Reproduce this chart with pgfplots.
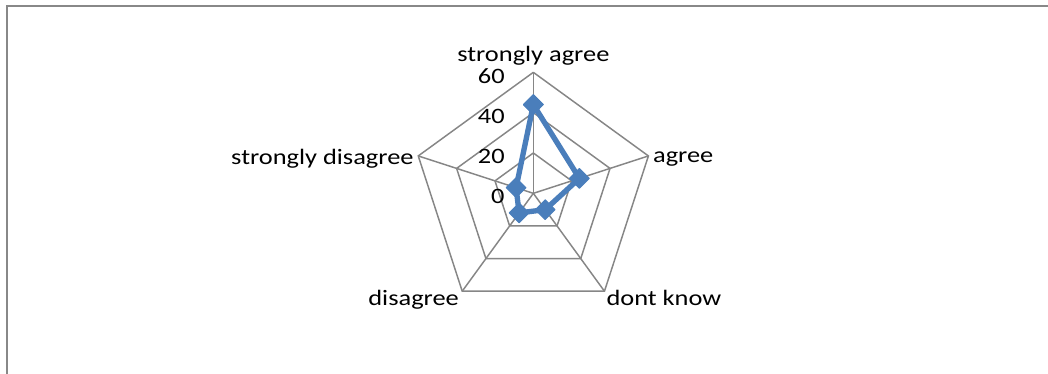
\documentclass[border=0pt]{standalone}
\usepackage{pgfplots}
\pgfplotsset{compat=1.18}
\usepgfplotslibrary{polar}
\usepackage{fontspec}
\setmainfont[FakeStretch=1.2]{Carlito}

\definecolor{gridgray}{RGB}{134,134,134}
\definecolor{framegray}{RGB}{136,136,136}
\definecolor{seriesblue}{RGB}{74,126,187}

\begin{document}
\begin{tikzpicture}
\useasboundingbox (0,0) rectangle (786pt,280.5pt);
\fill[white] (0,0) rectangle (786pt,280.5pt);
% chart area border (only top and left visible)
\draw[framegray, line width=1.5pt] (4.9pt,0) -- (4.9pt,276pt) -- (786pt,276pt);

\begin{polaraxis}[
  at={(400pt,135.5pt)}, anchor=center,
  scale only axis, width=181.5pt, height=181.5pt,
  ymin=0, ymax=60,
  hide axis,
  clip=false,
  font=\fontsize{16.5}{19}\selectfont,
]
% pentagon gridlines
\addplot[gridgray, line width=1.1pt] coordinates {(90,20) (18,20) (-54,20) (-126,20) (162,20) (90,20)};
\addplot[gridgray, line width=1.1pt] coordinates {(90,40) (18,40) (-54,40) (-126,40) (162,40) (90,40)};
\addplot[gridgray, line width=1.1pt] coordinates {(90,60) (18,60) (-54,60) (-126,60) (162,60) (90,60)};
% spokes
\addplot[gridgray, line width=1.1pt] coordinates {(90,0) (90,60)};
\addplot[gridgray, line width=1.1pt] coordinates {(18,0) (18,60)};
\addplot[gridgray, line width=1.1pt] coordinates {(-54,0) (-54,60)};
\addplot[gridgray, line width=1.1pt] coordinates {(-126,0) (-126,60)};
\addplot[gridgray, line width=1.1pt] coordinates {(162,0) (162,60)};

% series
\addplot[seriesblue, line width=4pt, line join=round,
  mark=square*, mark size=5.2pt,
  mark options={rotate=45, line width=0.8pt, fill=seriesblue}]
coordinates {
  (90,44)
  (18,24)
  (-54,10)
  (-126,12)
  (162,9)
  (90,44)
};

% radial tick labels
\node[anchor=east, xshift=-18pt, yshift=-2.6pt] at (axis cs:90,60) {60};
\node[anchor=east, xshift=-18pt, yshift=-2.6pt] at (axis cs:90,40) {40};
\node[anchor=east, xshift=-18pt, yshift=-2.6pt] at (axis cs:90,20) {20};
\node[anchor=east, xshift=-18pt, yshift=-2.6pt] at (axis cs:90,0) {0};

% category labels
\node[anchor=south, yshift=2pt] at (axis cs:90,60) {strongly agree};
\node[anchor=west, xshift=0pt, yshift=-2pt] at (axis cs:18,60) {agree};
\node[anchor=north west, xshift=-2pt, yshift=4pt] at (axis cs:-54,60) {dont know};
\node[anchor=north east, xshift=1pt, yshift=4pt] at (axis cs:-126,60) {disagree};
\node[anchor=east, xshift=0pt, yshift=-2pt] at (axis cs:162,60) {strongly disagree};
\end{polaraxis}
\end{tikzpicture}
\end{document}
